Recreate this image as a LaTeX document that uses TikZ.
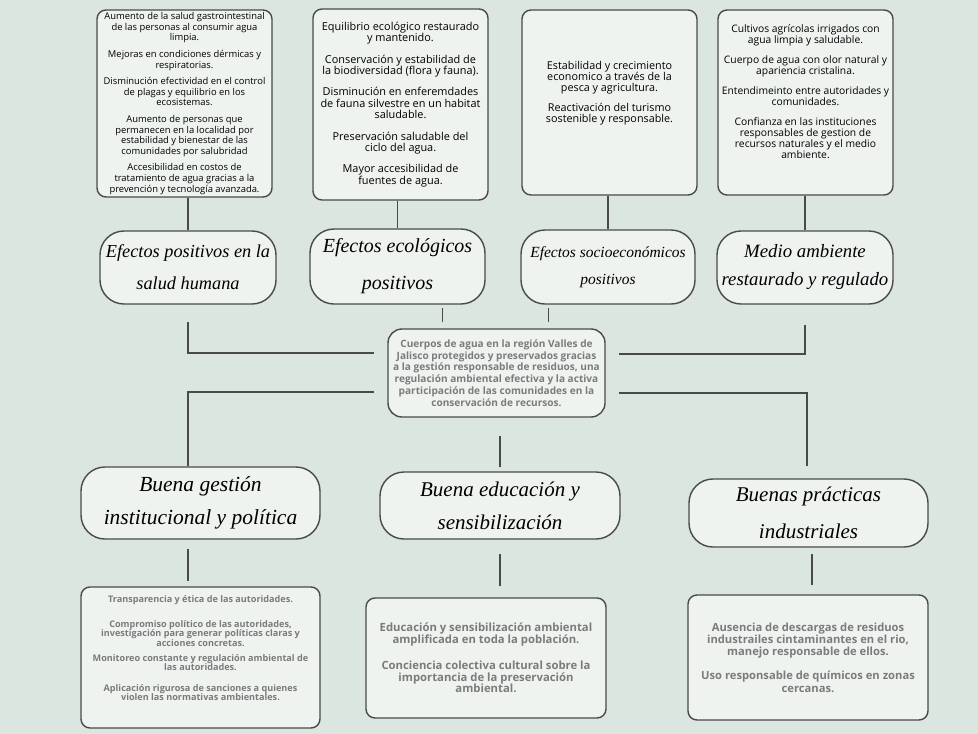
\documentclass[tikz,border=0pt]{standalone}
\usepackage{fontspec}
\usetikzlibrary{calc}
\newfontfamily\headfont{Liberation Serif}
\newfontfamily\bodyfont{Open Sans}
\definecolor{sage}{HTML}{DAE6DF}
\definecolor{boxfill}{HTML}{EEF3F0}
\definecolor{edge}{HTML}{4A4A4A}
\definecolor{greytext}{HTML}{7B7B7B}
\tikzset{
  infobox/.style={draw=edge, line width=1.4pt, fill=boxfill, rounded corners=9pt, align=center, inner sep=0pt},
  headbox/.style={draw=edge, line width=1.4pt, fill=boxfill, rounded corners=24pt, align=center, inner sep=0pt},
  conn/.style={draw=edge, line width=1.2pt},
}

\begin{document}
\begin{tikzpicture}[x=1pt, y=-1pt]
    % Background
    \fill[sage] (0,0) rectangle (978,734);

    % Effects (top boxes)
    \node[infobox, minimum width=175pt, minimum height=187pt, font=\bodyfont\fontsize{9.4}{10.6}\selectfont] (t1) at (184.5,103.5)
        {Aumento de la salud gastrointestinal\\de las personas al consumir agua\\limpia.\\[6pt]
         Mejoras en condiciones dérmicas y\\respiratorias.\\[6pt]
         Disminución efectividad en el control\\de plagas y equilibrio en los\\ecosistemas.\\[6pt]
         Aumento de personas que\\permanecen en la localidad por\\estabilidad y bienestar de las\\comunidades por salubridad\\[6pt]
         Accesibilidad en costos de\\tratamiento de agua gracias a la\\prevención y tecnología avanzada.};
    \node[infobox, minimum width=175pt, minimum height=191pt, font=\bodyfont\fontsize{10.9}{11.4}\selectfont] (t2) at (400.5,104.5)
        {Equilibrio ecológico restaurado\\y mantenido.\\[10pt]
         Conservación y estabilidad de\\la biodiversidad (flora y fauna).\\[10pt]
         Disminución en enferemdades\\de fauna silvestre en un habitat\\saludable.\\[10pt]
         Preservación saludable del\\ciclo del agua.\\[10pt]
         Mayor accesibilidad de\\fuentes de agua.};
    \node[infobox, minimum width=175pt, minimum height=185pt, font=\bodyfont\fontsize{10.8}{11.2}\selectfont] (t3) at (609.5,102.5)
        {Estabilidad y crecimiento\\economico a través de la\\pesca y agricultura.\\[9pt]
         Reactivación del turismo\\sostenible y responsable.\\[10pt]};
    \node[infobox, minimum width=175pt, minimum height=185pt, font=\bodyfont\fontsize{10.3}{11}\selectfont] (t4) at (805.5,102.5)
        {Cultivos agrícolas irrigados con\\agua limpia y saludable.\\[9pt]
         Cuerpo de agua con olor natural y\\apariencia cristalina.\\[9pt]
         Entendimeinto entre autoridades y\\comunidades.\\[9pt]
         Confianza en las instituciones\\responsables de gestion de\\recursos naturales y el medio\\ambiente.\\[10pt]};

    % Effect headings
    \node[headbox, minimum width=176pt, minimum height=73pt, font=\headfont\itshape\fontsize{18.3}{32}\selectfont] (h1) at (188,267.5)
        {Efectos positivos en la\\salud humana};
    \node[headbox, minimum width=175pt, minimum height=75pt, font=\headfont\itshape\fontsize{20}{37}\selectfont] (h2) at (397.5,266.5)
        {Efectos ecológicos\\positivos};
    \node[headbox, minimum width=174pt, minimum height=74pt, font=\headfont\itshape\fontsize{15.5}{27}\selectfont] (h3) at (608,267)
        {Efectos socioeconómicos\\positivos};
    \node[headbox, minimum width=176pt, minimum height=73pt, font=\headfont\itshape\fontsize{18.8}{28}\selectfont] (h4) at (805,267.5)
        {Medio ambiente\\restaurado y regulado};

    % Central problem
    \node[infobox, rounded corners=14pt, minimum width=217pt, minimum height=88pt, text=greytext, font=\bodyfont\bfseries\fontsize{10.1}{11.7}\selectfont] (c) at (496.5,373)
        {Cuerpos de agua en la región Valles de\\Jalisco protegidos y preservados gracias\\a la gestión responsable de residuos, una\\regulación ambiental efectiva y la activa\\participación de las comunidades en la\\conservación de recursos.};

    % Means headings
    \node[headbox, minimum width=239pt, minimum height=72pt, font=\headfont\itshape\fontsize{21.5}{33}\selectfont] (b1) at (200.5,503)
        {Buena gestión\\institucional y política};
    \node[headbox, minimum width=240pt, minimum height=67pt, font=\headfont\itshape\fontsize{21}{33}\selectfont] (b2) at (500,505.5)
        {Buena educación y\\sensibilización};
    \node[headbox, minimum width=239pt, minimum height=68pt, font=\headfont\itshape\fontsize{21}{37}\selectfont] (b3) at (808.5,513)
        {Buenas prácticas\\industriales};

    % Means (bottom boxes)
    \node[infobox, minimum width=239pt, minimum height=141pt, text=greytext, font=\bodyfont\bfseries\fontsize{9.1}{9.3}\selectfont] (p1) at (200.5,657.5)
        {Transparencia y ética de las autoridades.\\[16pt]
         Compromiso político de las autoridades,\\investigación para generar políticas claras y\\acciones concretas.\\[6pt]
         Monitoreo constante y regulación ambiental de\\las autoridades.\\[11pt]
         Aplicación rigurosa de sanciones a quienes\\violen las normativas ambientales.\\[10pt]};
    \node[infobox, minimum width=240pt, minimum height=120pt, text=greytext, font=\bodyfont\bfseries\fontsize{11.3}{11.4}\selectfont] (p2) at (486,658)
        {Educación y sensibilización ambiental\\amplificada en toda la población.\\[15pt]
         Conciencia colectiva cultural sobre la\\importancia de la preservación\\ambiental.};
    \node[infobox, minimum width=240pt, minimum height=125pt, text=greytext, font=\bodyfont\bfseries\fontsize{11.2}{12.3}\selectfont] (p3) at (808,657.5)
        {Ausencia de descargas de residuos\\industrailes cintaminantes en el rio,\\manejo responsable de ellos.\\[12pt]
         Uso responsable de químicos en zonas\\cercanas.};

    % Connections
    \draw[conn] (t1.south -| h1.north) -- (h1.north);
    \draw[conn] (t2.south -| h2.north) -- (h2.north);
    \draw[conn] (t3.south -| h3.north) -- (h3.north);
    \draw[conn] (t4.south -| h4.north) -- (h4.north);

    \draw[conn] ([yshift=-17pt]h1.south) |- ([xshift=-13pt,yshift=20pt]c.west);
    \draw[conn] ([xshift=-54pt,yshift=6pt]c.north) -- ([xshift=-54pt,yshift=20pt]c.north);
    \draw[conn] ([xshift=52pt,yshift=6pt]c.north) -- ([xshift=52pt,yshift=20pt]c.north);
    \draw[conn] ([yshift=-20pt]h4.south) |- ([xshift=13pt,yshift=19pt]c.east);

    \draw[conn] ([xshift=-13pt,yshift=-19pt]c.west) -| (b1.north -| h1.south);
    \draw[conn] ($(c.south -| b2.north)+(0,18)$) -- ($(b2.north)+(0,-4)$);
    \draw[conn] ([xshift=13pt,yshift=-20pt]c.east) -| ($(b3.north)+(-1.5,-12)$);

    \draw[conn] ($(h1.south |- b1.south)+(0,9)$) -- ($(h1.south |- p1.north)+(0,-5)$);
    \draw[conn] ($(b2.south)+(0,14)$) -- ($(b2.south |- p2.north)+(0,-11)$);
    \draw[conn] ($(b3.south)+(3.5,6)$) -- ($(b3.south |- p3.north)+(3.5,-9)$);
\end{tikzpicture}
\end{document}
